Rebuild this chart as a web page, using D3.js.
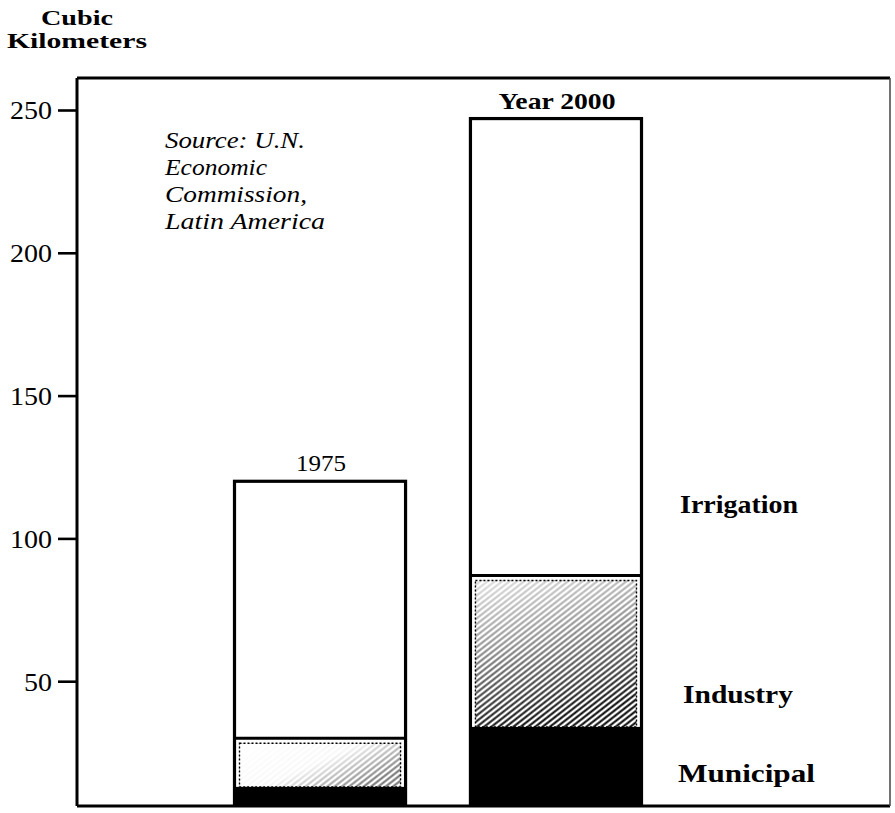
<!DOCTYPE html>
<html>
<head>
<meta charset="utf-8">
<script src="https://cdn.jsdelivr.net/npm/d3@7"></script>
<style>
  html, body { margin: 0; padding: 0; background: #fff; }
  svg { display: block; }
  text { fill: #000; }
</style>
</head>
<body>
<svg id="chart" width="895" height="813"></svg>
<script>
// ---- data ----
const categories = ["1975", "2000"];
const barLabels = ["1975", "Year 2000"];
const seriesKeys = ["municipal", "industry", "irrigation"];
const seriesNames = ["Municipal", "Industry", "Irrigation"];
const municipal = [13, 34];
const industry = [17, 53];
const irrigation = [90, 160];
const tickValues = [50, 100, 150, 200, 250];
const tickLabels = ["50", "100", "150", "200", "250"];
const axisTitle = ["Cubic", "Kilometers"];
const sourceLines = ["Source: U.N.", "Economic", "Commission,", "Latin America"];

const rows = categories.map((c, i) => ({
  cat: c, municipal: municipal[i], industry: industry[i], irrigation: irrigation[i]
}));

// ---- layout ----
const frame = { left: 77, top: 78, right: 890, bottom: 806 };
const svg = d3.select("#chart");
const serif = "'Liberation Serif', 'Times New Roman', serif";

const y = d3.scaleLinear().domain([0, 250]).range([824, 110]);
const x = d3.scaleBand().domain(categories).range([234.5, 641.5]).paddingInner(0.275).paddingOuter(0);

const defs = svg.append("defs");
defs.append("clipPath").attr("id", "plotClip")
  .append("rect").attr("x", frame.left).attr("y", frame.top)
  .attr("width", frame.right - frame.left).attr("height", frame.bottom - frame.top);

const hatch = defs.append("pattern").attr("id", "hatch")
  .attr("patternUnits", "userSpaceOnUse").attr("width", 10).attr("height", 4.5)
  .attr("patternTransform", "rotate(-38)");
hatch.append("rect").attr("width", 10).attr("height", 4.5).attr("fill", "#fff");
hatch.append("line").attr("x1", 0).attr("x2", 10).attr("y1", 2.25).attr("y2", 2.25)
  .attr("stroke", "#000").attr("stroke-width", 2);

// fade overlays (white) to imitate uneven stipple
const g2000 = defs.append("linearGradient").attr("id", "fade2000")
  .attr("x1", 0).attr("y1", 0).attr("x2", 0.25).attr("y2", 1);
g2000.append("stop").attr("offset", 0).attr("stop-color", "#fff").attr("stop-opacity", 0.88);
g2000.append("stop").attr("offset", 0.45).attr("stop-color", "#fff").attr("stop-opacity", 0.55);
g2000.append("stop").attr("offset", 1).attr("stop-color", "#fff").attr("stop-opacity", 0);

const g1975 = defs.append("linearGradient").attr("id", "fade1975")
  .attr("x1", 0).attr("y1", 0).attr("x2", 1).attr("y2", 0.6);
g1975.append("stop").attr("offset", 0).attr("stop-color", "#fff").attr("stop-opacity", 1);
g1975.append("stop").attr("offset", 0.55).attr("stop-color", "#fff").attr("stop-opacity", 0.97);
g1975.append("stop").attr("offset", 1).attr("stop-color", "#fff").attr("stop-opacity", 0.45);

const fades = ["url(#fade1975)", "url(#fade2000)"];

// ---- stacked bars ----
const stacked = d3.stack().keys(seriesKeys)(rows);
const plot = svg.append("g").attr("clip-path", "url(#plotClip)");

const irr = stacked[2], ind = stacked[1], mun = stacked[0];

// irrigation (white)
plot.selectAll("rect.irr").data(irr).join("rect").attr("class", "irr")
  .attr("x", d => x(d.data.cat)).attr("width", x.bandwidth())
  .attr("y", d => y(d[1])).attr("height", d => y(d[0]) - y(d[1]))
  .attr("fill", "#fff");

// industry (hatched)
const inset = 5;
const indRect = sel => sel
  .attr("x", d => x(d.data.cat) + inset).attr("width", x.bandwidth() - 2 * inset)
  .attr("y", d => y(d[1]) + inset).attr("height", d => y(d[0]) - y(d[1]) - inset);
plot.selectAll("rect.ind").data(ind).join("rect").attr("class", "ind")
  .call(indRect).attr("fill", "url(#hatch)");
plot.selectAll("rect.indfade").data(ind).join("rect").attr("class", "indfade")
  .call(indRect).attr("fill", (d, i) => fades[i]);
plot.selectAll("rect.indedge").data(ind).join("rect").attr("class", "indedge")
  .call(indRect)
  .attr("fill", "none").attr("stroke", "#000").attr("stroke-width", 1.4)
  .attr("stroke-dasharray", "2 2");

// municipal (black)
plot.selectAll("rect.mun").data(mun).join("rect").attr("class", "mun")
  .attr("x", d => x(d.data.cat)).attr("width", x.bandwidth())
  .attr("y", d => y(d[1])).attr("height", d => y(d[0]) - y(d[1]))
  .attr("fill", "#000");

// separators between irrigation and industry
plot.selectAll("line.sep").data(ind).join("line").attr("class", "sep")
  .attr("x1", d => x(d.data.cat)).attr("x2", d => x(d.data.cat) + x.bandwidth())
  .attr("y1", d => y(d[1])).attr("y2", d => y(d[1]))
  .attr("stroke", "#000").attr("stroke-width", 3);

// bar outlines
plot.selectAll("rect.outline").data(irr).join("rect").attr("class", "outline")
  .attr("x", d => x(d.data.cat)).attr("width", x.bandwidth())
  .attr("y", d => y(d[1])).attr("height", d => y(0) - y(d[1]))
  .attr("fill", "none").attr("stroke", "#000").attr("stroke-width", 3.2);

// ---- frame ----
svg.append("line").attr("x1", frame.left).attr("x2", frame.right)
  .attr("y1", frame.top).attr("y2", frame.top).attr("stroke", "#000").attr("stroke-width", 3);
svg.append("line").attr("x1", frame.left).attr("x2", frame.right)
  .attr("y1", frame.bottom).attr("y2", frame.bottom).attr("stroke", "#000").attr("stroke-width", 3);
svg.append("line").attr("x1", frame.right).attr("x2", frame.right)
  .attr("y1", frame.top).attr("y2", frame.bottom).attr("stroke", "#444").attr("stroke-width", 1.5);

// ---- y axis ----
const yAxis = d3.axisLeft(y).tickValues(tickValues)
  .tickFormat((d, i) => tickLabels[i]).tickSize(19).tickPadding(6);
const ax = svg.append("g").attr("transform", `translate(${frame.left},0)`).call(yAxis);
ax.select(".domain").remove();
ax.append("line").attr("x1", 0).attr("x2", 0).attr("y1", frame.top).attr("y2", frame.bottom)
  .attr("stroke", "#000").attr("stroke-width", 3);
ax.selectAll(".tick line").attr("stroke", "#000").attr("stroke-width", 2.6);
ax.selectAll(".tick text")
  .attr("font-family", serif).attr("font-size", 26)
  .attr("fill", "#000").attr("dy", "0.34em")
  .attr("textLength", (d, i) => tickLabels[i].length * 14)
  .attr("lengthAdjust", "spacingAndGlyphs");

// axis title
svg.append("text").attr("x", 77).attr("y", 25).attr("text-anchor", "middle")
  .attr("font-family", serif).attr("font-weight", "bold")
  .attr("font-size", 22).attr("textLength", 72).attr("lengthAdjust", "spacingAndGlyphs")
  .text(axisTitle[0]);
svg.append("text").attr("x", 7).attr("y", 48)
  .attr("font-family", serif).attr("font-weight", "bold")
  .attr("font-size", 22).attr("textLength", 140).attr("lengthAdjust", "spacingAndGlyphs")
  .text(axisTitle[1]);

// ---- bar labels ----
const labelStyles = [
  { weight: "normal", size: 24, len: 50 },
  { weight: "bold", size: 23, len: 117 }
];
svg.selectAll("text.barlabel").data(irr).join("text").attr("class", "barlabel")
  .attr("x", d => x(d.data.cat) + x.bandwidth() / 2 + 1)
  .attr("y", d => y(d[1]) - 10)
  .attr("text-anchor", "middle")
  .attr("font-family", serif)
  .attr("font-weight", (d, i) => labelStyles[i].weight)
  .attr("font-size", (d, i) => labelStyles[i].size)
  .attr("textLength", (d, i) => labelStyles[i].len)
  .attr("lengthAdjust", "spacingAndGlyphs")
  .text((d, i) => barLabels[i]);

// ---- series labels (right side) ----
const seriesLabelPos = [
  { x: 678, y: 782, len: 137 },  // Municipal
  { x: 683, y: 703, len: 110 },  // Industry
  { x: 680, y: 513, len: 118 }   // Irrigation
];
svg.selectAll("text.series").data(seriesNames).join("text").attr("class", "series")
  .attr("x", (d, i) => seriesLabelPos[i].x).attr("y", (d, i) => seriesLabelPos[i].y)
  .attr("font-family", serif).attr("font-weight", "bold")
  .attr("font-size", 26)
  .attr("textLength", (d, i) => seriesLabelPos[i].len).attr("lengthAdjust", "spacingAndGlyphs")
  .text(d => d);

// ---- source note ----
const srcLen = [140, 102, 142, 160];
svg.selectAll("text.src").data(sourceLines).join("text").attr("class", "src")
  .attr("x", 165).attr("y", (d, i) => 148 + i * 27)
  .attr("font-family", serif).attr("font-style", "italic")
  .attr("font-size", 24)
  .attr("textLength", (d, i) => srcLen[i]).attr("lengthAdjust", "spacingAndGlyphs")
  .text(d => d);
</script>
</body>
</html>
